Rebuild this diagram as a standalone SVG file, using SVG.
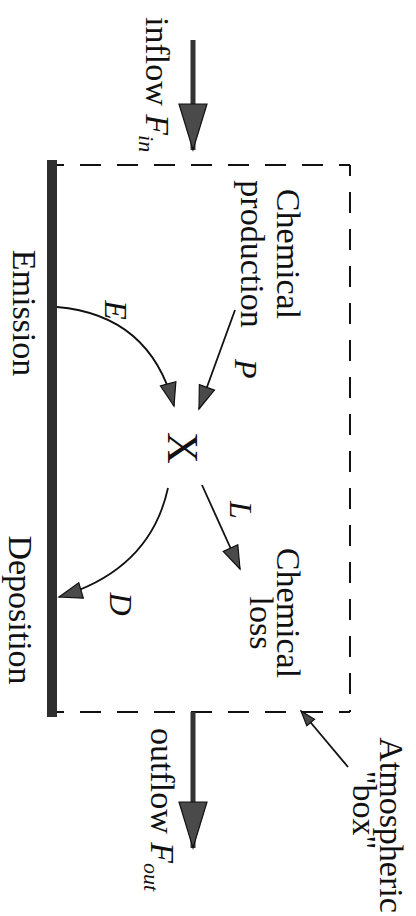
<svg xmlns="http://www.w3.org/2000/svg" width="416" height="916" viewBox="0 0 416 916">
  <style>
    .t { font-family: "Liberation Serif", "Times New Roman", serif; font-size: 34px; fill: #111; }
    .it { font-family: "Liberation Serif", "Times New Roman", serif; font-size: 32px; font-style: italic; fill: #111; }
    .dash { stroke: #111; stroke-width: 2; fill: none; stroke-dasharray: 21 16; }
    .conn { stroke: #111; stroke-width: 1.8; fill: none; }
    .flow { stroke: #333; stroke-width: 5; fill: none; }
    .head { fill: #4a4a4a; stroke: #111; stroke-width: 1.2; }
  </style>
  <defs>
    <marker id="bigHead" markerUnits="userSpaceOnUse" markerWidth="50" markerHeight="32" refX="47" refY="15" orient="auto">
      <path class="head" d="M1,1 L47,15 L1,29 Z"/>
    </marker>
    <marker id="smallHead" markerUnits="userSpaceOnUse" markerWidth="26" markerHeight="20" refX="24" refY="9" orient="auto">
      <path class="head" d="M1,1 L24,9 L1,17 Z"/>
    </marker>
    <marker id="ptrHead" markerUnits="userSpaceOnUse" markerWidth="18" markerHeight="14" refX="16" refY="6" orient="auto">
      <path class="head" d="M1,1 L16,6 L1,11 Z" fill="#777"/>
    </marker>
  </defs>

  <!-- Atmospheric box (dashed) -->
  <g id="atmospheric-box">
    <line class="dash" x1="57" y1="165" x2="350" y2="165" stroke-dashoffset="14"/>
    <line class="dash" x1="350" y1="165" x2="350" y2="712" stroke-dashoffset="10"/>
    <line class="dash" x1="57" y1="712" x2="350" y2="712" stroke-dashoffset="14"/>
  </g>

  <!-- Surface (ground bar) -->
  <g id="surface">
    <rect x="47" y="160" width="10" height="557" fill="#2e2e2e"/>
  </g>

  <!-- Connectors -->
  <g id="connectors">
    <line class="flow" x1="193" y1="40" x2="193" y2="150" marker-end="url(#bigHead)"/>
    <line class="flow" x1="193" y1="712" x2="193" y2="848" marker-end="url(#bigHead)"/>
    <path class="conn" d="M57,307 Q150,315 174,406" marker-end="url(#smallHead)"/>
    <path class="conn" d="M235,310 L199,409" marker-end="url(#smallHead)"/>
    <path class="conn" d="M202,485 L240,569" marker-end="url(#smallHead)"/>
    <path class="conn" d="M168,488 Q150,570 59,597" marker-end="url(#smallHead)"/>
    <path class="conn" d="M348,767 L301,711" marker-end="url(#ptrHead)"/>
  </g>

  <!-- Species X -->
  <g id="species-x">
    <text class="t" style="font-size:44px" text-anchor="middle" transform="translate(168,448) rotate(90)">X</text>
  </g>

  <!-- Chemical production -->
  <g id="chemical-production">
    <text class="t" text-anchor="middle" transform="translate(277,254) rotate(90)">Chemical</text>
    <text class="t" text-anchor="middle" transform="translate(241,254) rotate(90)">production</text>
    <text class="it" transform="translate(235,359) rotate(90)">P</text>
  </g>

  <!-- Chemical loss -->
  <g id="chemical-loss">
    <text class="t" text-anchor="middle" transform="translate(277,613) rotate(90)">Chemical</text>
    <text class="t" text-anchor="middle" transform="translate(250,623) rotate(90)">loss</text>
    <text class="it" text-anchor="middle" transform="translate(230,510) rotate(90)">L</text>
  </g>

  <!-- Emission -->
  <g id="emission">
    <text class="t" text-anchor="middle" transform="translate(13,313) rotate(90)">Emission</text>
    <text class="it" text-anchor="middle" transform="translate(105,310) rotate(90)">E</text>
  </g>

  <!-- Deposition -->
  <g id="deposition">
    <text class="t" text-anchor="middle" transform="translate(9,610) rotate(90)">Deposition</text>
    <text class="it" text-anchor="middle" transform="translate(110,604) rotate(90)">D</text>
  </g>

  <!-- Inflow -->
  <g id="inflow">
    <text class="t" transform="translate(146,17) rotate(90)">inflow <tspan font-style="italic">F</tspan><tspan font-style="italic" font-size="22" dy="7">in</tspan></text>
  </g>

  <!-- Outflow -->
  <g id="outflow">
    <text class="t" transform="translate(151,728) rotate(90)">outflow <tspan font-style="italic">F</tspan><tspan font-style="italic" font-size="22" dy="7">out</tspan></text>
  </g>

  <!-- Atmospheric box label -->
  <g id="atmospheric-label">
    <text class="t" text-anchor="middle" transform="translate(380,825) rotate(90)">Atmospheric</text>
    <text class="t" text-anchor="middle" transform="translate(353,810) rotate(90)">"box"</text>
  </g>
</svg>
